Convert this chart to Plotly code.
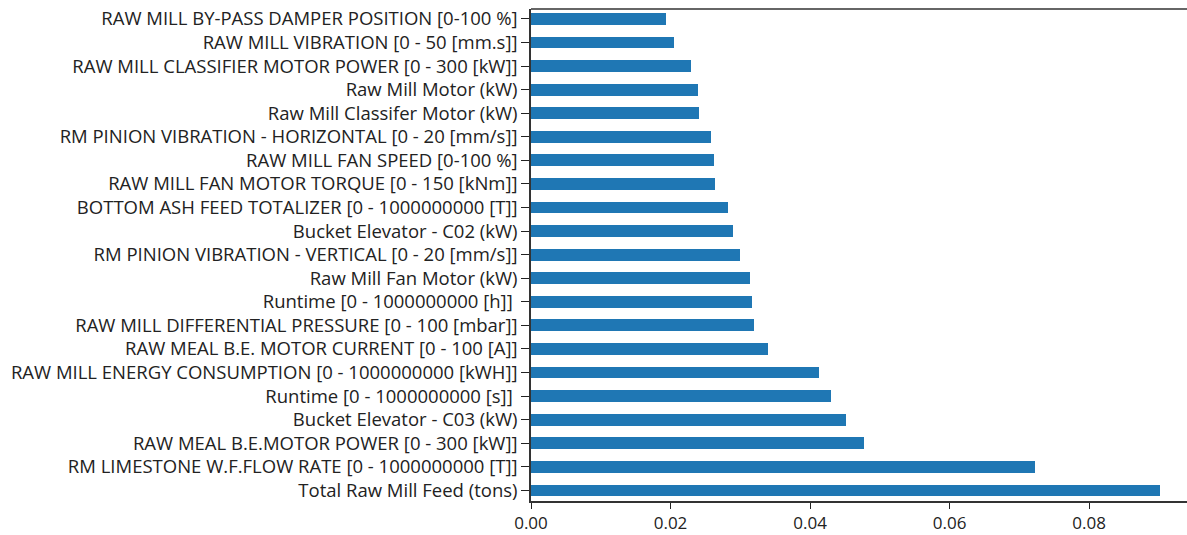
import plotly.graph_objects as go

labels = [
    "RAW MILL BY-PASS DAMPER POSITION [0-100 %]",
    "RAW MILL VIBRATION [0 - 50 [mm.s]]",
    "RAW MILL CLASSIFIER MOTOR POWER [0 - 300 [kW]]",
    "Raw Mill Motor (kW)",
    "Raw Mill Classifer Motor (kW)",
    "RM PINION VIBRATION - HORIZONTAL [0 - 20 [mm/s]]",
    "RAW MILL FAN SPEED [0-100 %]",
    "RAW MILL FAN MOTOR TORQUE [0 - 150 [kNm]]",
    "BOTTOM ASH FEED TOTALIZER [0 - 1000000000 [T]]",
    "Bucket Elevator - C02 (kW)",
    "RM PINION VIBRATION - VERTICAL [0 - 20 [mm/s]]",
    "Raw Mill Fan Motor (kW)",
    "Runtime [0 - 1000000000 [h]] ",
    "RAW MILL DIFFERENTIAL PRESSURE [0 - 100 [mbar]]",
    "RAW MEAL B.E. MOTOR CURRENT [0 - 100 [A]]",
    "RAW MILL ENERGY CONSUMPTION [0 - 1000000000 [kWH]]",
    "Runtime [0 - 1000000000 [s]] ",
    "Bucket Elevator - C03 (kW)",
    "RAW MEAL B.E.MOTOR POWER [0 - 300 [kW]]",
    "RM LIMESTONE W.F.FLOW RATE [0 - 1000000000 [T]]",
    "Total Raw Mill Feed (tons)",
]
values = [
    0.0193, 0.0205, 0.0230, 0.0239, 0.0241, 0.0258, 0.0262, 0.0264,
    0.0283, 0.0289, 0.0300, 0.0314, 0.0317, 0.0319, 0.0340, 0.0413,
    0.0430, 0.0451, 0.0478, 0.0723, 0.0902,
]
xticks = [0, 0.02, 0.04, 0.06, 0.08]
xticklabels = ["0.00", "0.02", "0.04", "0.06", "0.08"]

# bottom-to-top order for plotting
ys = list(range(len(labels)))
ys_labels = labels[::-1]
vals = values[::-1]

fig = go.Figure(go.Bar(
    x=vals, y=ys, orientation="h", width=0.5,
    marker=dict(color="#1f77b4", line=dict(width=0)),
))

# figure is slightly wider than the window so the right spine falls
# just outside the visible area, as in the reference
fig.update_layout(
    width=1193, height=535,
    margin=dict(l=531, r=2, t=9, b=34),
    paper_bgcolor="white", plot_bgcolor="white",
    font=dict(family="Open Sans", size=18.5, color="#222222"),
    showlegend=False,
    bargap=0,
    shapes=[dict(type="line", xref="paper", yref="paper", x0=0, x1=1, y0=1, y1=1,
                 line=dict(color="#333333", width=1.5))],
)
fig.update_xaxes(
    range=[0, 0.0946],
    tickvals=xticks, ticktext=xticklabels,
    ticks="outside", ticklen=6, tickwidth=1, tickcolor="#222222",
    showline=True, linecolor="#333333", linewidth=1.5,
    showgrid=False, zeroline=False,
    tickfont=dict(size=17),
)
fig.update_yaxes(
    range=[-0.45, 20.42],
    tickvals=ys, ticktext=ys_labels,
    ticks="outside", ticklen=8, tickwidth=1, tickcolor="#222222",
    showline=True, linecolor="#333333", linewidth=1.5,
    showgrid=False, zeroline=False,
    tickfont=dict(size=18.5),
    ticklabelstandoff=0,
)

fig.write_html(
    "out.html",
    config={"displayModeBar": False},
    post_script="document.body.style.margin='0';document.body.style.overflow='hidden';"
                "document.documentElement.style.overflow='hidden';",
)
